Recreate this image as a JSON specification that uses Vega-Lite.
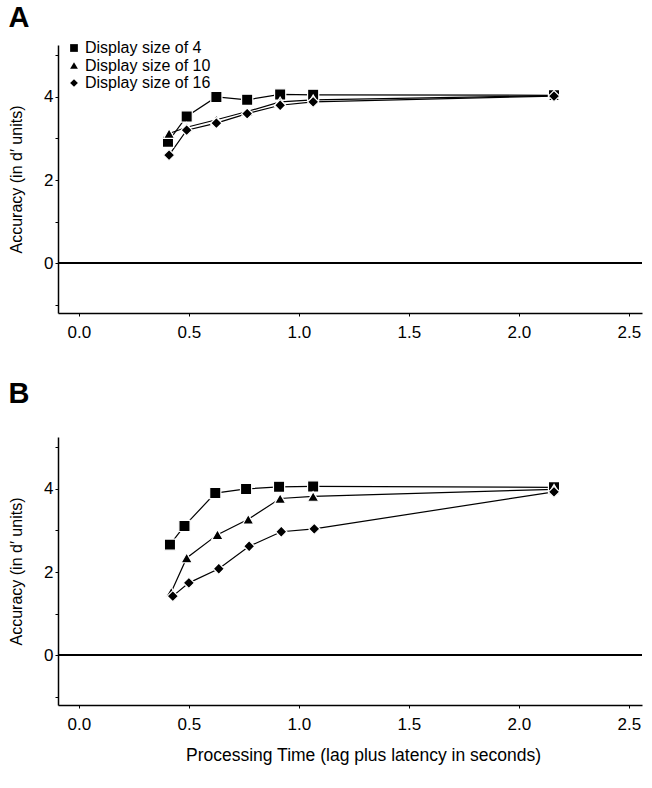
{
  "$schema": "https://vega.github.io/schema/vega-lite/v6.json",
  "background": "white",
  "padding": {"left": 8, "top": 4, "right": 10, "bottom": 5},
  "config": {
    "font": "Liberation Sans",
    "view": {"stroke": null},
    "axis": {"domainColor": "black", "domainWidth": 1.5, "tickColor": "black", "tickSize": 3, "labelColor": "black", "titleColor": "black", "labelFont": "Liberation Sans", "titleFont": "Liberation Sans", "labelFontSize": 17, "titleFontSize": 16, "titleFontWeight": "normal", "grid": false},
    "title": {"font": "Liberation Sans", "fontSize": 29, "fontWeight": "bold", "anchor": "start", "color": "black"},
    "legend": {"labelFont": "Liberation Sans", "labelFontSize": 16, "labelColor": "black"}
  },
  "datasets": {
    "pts": [
      {"panel": "A", "series": "Display size of 4", "t": 0.405, "d": 2.92},
      {"panel": "A", "series": "Display size of 4", "t": 0.49, "d": 3.53},
      {"panel": "A", "series": "Display size of 4", "t": 0.625, "d": 4.0},
      {"panel": "A", "series": "Display size of 4", "t": 0.765, "d": 3.93},
      {"panel": "A", "series": "Display size of 4", "t": 0.915, "d": 4.06},
      {"panel": "A", "series": "Display size of 4", "t": 1.065, "d": 4.05},
      {"panel": "A", "series": "Display size of 4", "t": 2.16, "d": 4.04},
      {"panel": "A", "series": "Display size of 10", "t": 0.41, "d": 3.12},
      {"panel": "A", "series": "Display size of 10", "t": 0.49, "d": 3.27},
      {"panel": "A", "series": "Display size of 10", "t": 0.625, "d": 3.45},
      {"panel": "A", "series": "Display size of 10", "t": 0.765, "d": 3.65},
      {"panel": "A", "series": "Display size of 10", "t": 0.915, "d": 3.88},
      {"panel": "A", "series": "Display size of 10", "t": 1.065, "d": 3.93},
      {"panel": "A", "series": "Display size of 10", "t": 2.16, "d": 4.03},
      {"panel": "A", "series": "Display size of 16", "t": 0.41, "d": 2.6},
      {"panel": "A", "series": "Display size of 16", "t": 0.49, "d": 3.2},
      {"panel": "A", "series": "Display size of 16", "t": 0.625, "d": 3.37},
      {"panel": "A", "series": "Display size of 16", "t": 0.765, "d": 3.6},
      {"panel": "A", "series": "Display size of 16", "t": 0.915, "d": 3.8},
      {"panel": "A", "series": "Display size of 16", "t": 1.065, "d": 3.88},
      {"panel": "A", "series": "Display size of 16", "t": 2.16, "d": 4.02},
      {"panel": "B", "series": "Display size of 4", "t": 0.414, "d": 2.66},
      {"panel": "B", "series": "Display size of 4", "t": 0.48, "d": 3.11},
      {"panel": "B", "series": "Display size of 4", "t": 0.62, "d": 3.9},
      {"panel": "B", "series": "Display size of 4", "t": 0.76, "d": 4.0},
      {"panel": "B", "series": "Display size of 4", "t": 0.91, "d": 4.05},
      {"panel": "B", "series": "Display size of 4", "t": 1.065, "d": 4.06},
      {"panel": "B", "series": "Display size of 4", "t": 2.16, "d": 4.04},
      {"panel": "B", "series": "Display size of 10", "t": 0.42, "d": 1.52},
      {"panel": "B", "series": "Display size of 10", "t": 0.49, "d": 2.34},
      {"panel": "B", "series": "Display size of 10", "t": 0.63, "d": 2.9},
      {"panel": "B", "series": "Display size of 10", "t": 0.77, "d": 3.27},
      {"panel": "B", "series": "Display size of 10", "t": 0.915, "d": 3.77},
      {"panel": "B", "series": "Display size of 10", "t": 1.065, "d": 3.82},
      {"panel": "B", "series": "Display size of 10", "t": 2.16, "d": 3.99},
      {"panel": "B", "series": "Display size of 16", "t": 0.427, "d": 1.42},
      {"panel": "B", "series": "Display size of 16", "t": 0.5, "d": 1.74},
      {"panel": "B", "series": "Display size of 16", "t": 0.636, "d": 2.08},
      {"panel": "B", "series": "Display size of 16", "t": 0.774, "d": 2.62},
      {"panel": "B", "series": "Display size of 16", "t": 0.92, "d": 2.97},
      {"panel": "B", "series": "Display size of 16", "t": 1.07, "d": 3.04},
      {"panel": "B", "series": "Display size of 16", "t": 2.16, "d": 3.93}
    ]
  },
  "spacing": 40,
  "vconcat": [
    {
      "title": {"text": "A", "offset": 7},
      "width": 584,
      "height": 268,
      "data": {"name": "pts"},
      "transform": [{"filter": "datum.panel == 'A'"}],
      "layer": [
        {
          "mark": {"type": "rule", "color": "black", "strokeWidth": 1.5},
          "encoding": {"y": {"datum": 0, "type": "quantitative"}}
        },
        {
          "mark": {"type": "line", "color": "black", "strokeWidth": 1.2},
          "encoding": {
            "x": {"field": "t", "type": "quantitative", "scale": {"domain": [-0.095, 2.56], "nice": false, "zero": false}, "axis": {"values": [0, 0.5, 1, 1.5, 2, 2.5], "format": ".1f", "title": null, "labelPadding": 8}},
            "y": {"field": "d", "type": "quantitative", "scale": {"domain": [-1.2, 5.25], "nice": false}, "axis": {"values": [-1, 0, 1, 2, 3, 4, 5], "labelExpr": "datum.value % 2 == 0 ? datum.label : ''", "title": "Accuracy (in d\u2032 units)", "titlePadding": 19}},
            "detail": {"field": "series"}
          }
        },
        {
          "mark": {"type": "point", "filled": true, "color": "black", "opacity": 1, "stroke": "white", "strokeWidth": 1.2, "size": 125},
          "encoding": {
            "x": {"field": "t", "type": "quantitative"},
            "y": {"field": "d", "type": "quantitative"},
            "shape": {"field": "series", "type": "nominal", "scale": {"domain": ["Display size of 4", "Display size of 10", "Display size of 16"], "range": ["square", "triangle-up", "diamond"]}, "legend": {"title": null, "orient": "none", "legendX": 8, "legendY": -5, "symbolSize": 60, "symbolFillColor": "black", "symbolStrokeColor": "black", "symbolStrokeWidth": 0, "rowPadding": 1.5, "labelOffset": 3, "padding": 0}}
          }
        }
      ]
    },
    {
      "title": {"text": "B", "offset": 28},
      "width": 584,
      "height": 268,
      "data": {"name": "pts"},
      "transform": [{"filter": "datum.panel == 'B'"}],
      "layer": [
        {
          "mark": {"type": "rule", "color": "black", "strokeWidth": 1.5},
          "encoding": {"y": {"datum": 0, "type": "quantitative"}}
        },
        {
          "mark": {"type": "line", "color": "black", "strokeWidth": 1.2},
          "encoding": {
            "x": {"field": "t", "type": "quantitative", "scale": {"domain": [-0.095, 2.56], "nice": false, "zero": false}, "axis": {"values": [0, 0.5, 1, 1.5, 2, 2.5], "format": ".1f", "title": "Processing Time (lag plus latency in seconds)", "titleFontSize": 17.5, "titleX": 305, "labelPadding": 8, "titlePadding": 14}},
            "y": {"field": "d", "type": "quantitative", "scale": {"domain": [-1.2, 5.25], "nice": false}, "axis": {"values": [-1, 0, 1, 2, 3, 4, 5], "labelExpr": "datum.value % 2 == 0 ? datum.label : ''", "title": "Accuracy (in d\u2032 units)", "titlePadding": 19}},
            "detail": {"field": "series"}
          }
        },
        {
          "mark": {"type": "point", "filled": true, "color": "black", "opacity": 1, "stroke": "white", "strokeWidth": 1.2, "size": 125},
          "encoding": {
            "x": {"field": "t", "type": "quantitative"},
            "y": {"field": "d", "type": "quantitative"},
            "shape": {"field": "series", "type": "nominal", "scale": {"domain": ["Display size of 4", "Display size of 10", "Display size of 16"], "range": ["square", "triangle-up", "diamond"]}, "legend": null}
          }
        }
      ]
    }
  ],
  "resolve": {"legend": {"shape": "independent"}}
}
